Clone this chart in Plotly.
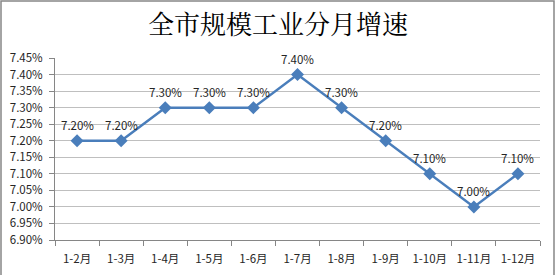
import plotly.graph_objects as go

categories = ["1-2月", "1-3月", "1-4月", "1-5月", "1-6月", "1-7月", "1-8月", "1-9月", "1-10月", "1-11月", "1-12月"]
growth = [7.20, 7.20, 7.30, 7.30, 7.30, 7.40, 7.30, 7.20, 7.10, 7.00, 7.10]
title_text = "全市规模工业分月增速"

W, H = 556, 275
ml, mr, mt, mb = 55, 16, 58, 35
pw, ph = W - ml - mr, H - mt - mb

fig = go.Figure()
fig.add_trace(go.Scatter(
    x=categories, y=growth,
    mode="lines+markers",
    line=dict(color="#4A7EBB", width=2.5),
    marker=dict(symbol="diamond", size=10, color="#4A7EBB"),
    cliponaxis=False,
    hoverinfo="skip",
))

annotations = [
    dict(x=c, y=v, xref="x", yref="y", text=f"{v:.2f}%", showarrow=False,
         yshift=16, font=dict(family="Noto Sans CJK SC, Liberation Sans", size=11.5, color="#262626"))
    for c, v in zip(categories, growth)
]

fig.update_layout(
    width=W, height=H,
    margin=dict(l=ml, r=mr, t=mt, b=mb, autoexpand=False),
    paper_bgcolor="white", plot_bgcolor="white",
    showlegend=False,
    title=dict(text=title_text, x=0.5, xanchor="center", y=1 - 25 / H, yanchor="middle",
               font=dict(family="Noto Serif CJK SC, Noto Sans CJK SC", size=26, color="#000000")),
    font=dict(family="Noto Sans CJK SC, Liberation Sans", size=11.5, color="#262626"),
    annotations=annotations,
    xaxis=dict(
        type="category", showgrid=False, showline=True, linecolor="#868686", linewidth=1,
        ticks="outside", tickson="boundaries", ticklen=5, tickcolor="#868686",
        ticklabelstandoff=8, tickangle=0, automargin=False,
        tickfont=dict(size=11.5, color="#262626"), range=[-0.5, len(categories) - 0.5],
    ),
    yaxis=dict(
        range=[6.90, 7.45], dtick=0.05, tick0=6.90, tickformat=".2f", ticksuffix="%",
        showgrid=True, gridcolor="#BFBFBF", gridwidth=1,
        showline=True, linecolor="#868686", linewidth=1,
        ticks="outside", ticklen=5, tickcolor="#868686",
        ticklabelstandoff=4, automargin=False,
        tickfont=dict(size=11.5, color="#262626"), zeroline=False,
    ),
    shapes=[dict(
        type="rect", xref="paper", yref="paper",
        x0=(1 - ml) / pw, x1=(W - 2 - ml) / pw,
        y0=(mb - (H - 2)) / ph, y1=(H - 1 - mb) / ph,
        line=dict(color="#868686", width=1.5), fillcolor="rgba(0,0,0,0)", layer="above",
    )],
)

fig.write_html("out.html")
